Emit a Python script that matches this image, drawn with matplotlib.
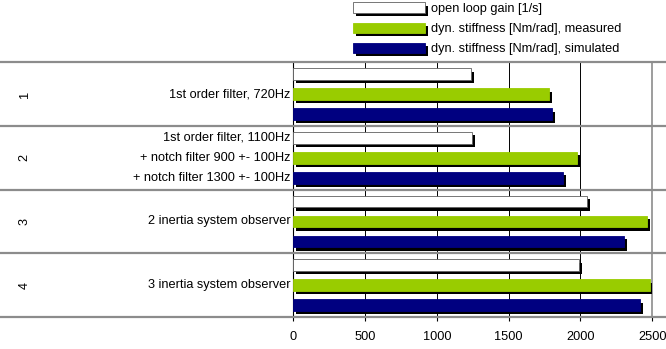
import numpy as np
import matplotlib
matplotlib.use("Agg")
import matplotlib.pyplot as plt
import matplotlib.patheffects as pe
from matplotlib.transforms import blended_transform_factory

plt.rcParams['font.family'] = ['Liberation Sans', 'DejaVu Sans']

# controller variants (top to bottom)
groups = ['1', '2', '3', '4']
group_labels = [
    ['1st order filter, 720Hz'],
    ['1st order filter, 1100Hz', '+ notch filter 900 +- 100Hz', '+ notch filter 1300 +- 100Hz'],
    ['2 inertia system observer'],
    ['3 inertia system observer'],
]
series_names = ['open loop gain [1/s]',
                'dyn. stiffness [Nm/rad], measured',
                'dyn. stiffness [Nm/rad], simulated']
open_loop_gain = [1240, 1245, 2043, 1992]
stiff_measured = [1778, 1976, 2465, 2487]
stiff_simulated = [1802, 1876, 2303, 2414]
series_colors = ['white', '#99cc00', '#000080']
xticks = [0, 500, 1000, 1500, 2000, 2500]

fs = 9.2

fig = plt.figure(figsize=(6.66, 3.49), dpi=100)
ax = fig.add_axes([0.4404, 0.0917, 0.5390, 0.7298])

y = np.arange(len(groups))
offsets = [-0.314, 0.0, 0.314]
h = 0.18
shadow = [pe.SimplePatchShadow(offset=(2.2, -2.4), shadow_rgbFace='black', alpha=1.0), pe.Normal()]

handles = []
for vals, off, col, name in zip([open_loop_gain, stiff_measured, stiff_simulated],
                                offsets, series_colors, series_names):
    edge = '#606060' if col == 'white' else col
    b = ax.barh(y + off, vals, height=h, color=col, edgecolor=edge, linewidth=0.6,
                label=name, zorder=3)
    for p in b.patches:
        p.set_path_effects(shadow)
    handles.append(b)

ax.set_xlim(0, 2500)
ax.set_ylim(len(groups) - 0.5, -0.5)
ax.set_xticks(xticks)
ax.set_xticklabels([str(t) for t in xticks], fontsize=fs)
ax.tick_params(axis='x', length=3, width=0.8, pad=7, color='black')
ax.set_yticks([])
ax.xaxis.grid(True, color='black', linewidth=0.7, zorder=1)
ax.set_axisbelow(True)

for s in ['top', 'bottom']:
    ax.spines[s].set_visible(False)
ax.spines['right'].set_color('#8c8c8c')
ax.spines['right'].set_linewidth(1.2)
ax.spines['left'].set_color('black')
ax.spines['left'].set_linewidth(0.8)

# group separators running across the whole figure width
x0 = -293.3 / 359.0
x1 = (666 - 293.3) / 359.0
for b in np.arange(len(groups) + 1) - 0.5:
    ax.axhline(b, xmin=x0, xmax=x1, color='#8c8c8c', linewidth=1.6, clip_on=False, zorder=4)

tr = blended_transform_factory(ax.transAxes, ax.transData)
for i, labs in enumerate(group_labels):
    if len(labs) == 1:
        ax.text(-0.008, y[i], labs[0], transform=tr, ha='right', va='center', fontsize=fs)
    else:
        for lab, off in zip(labs, offsets):
            ax.text(-0.008, y[i] + off, lab, transform=tr, ha='right', va='center', fontsize=fs)
    ax.text(-0.748, y[i], groups[i], transform=tr, ha='center', va='center',
            rotation=90, fontsize=fs)

leg = ax.legend(handles=handles, loc='upper left', bbox_to_anchor=(352 / 666, 0.997),
                bbox_transform=fig.transFigure, frameon=False, fontsize=fs,
                handlelength=5.6, handleheight=0.85, handletextpad=0.45,
                labelspacing=0.6, borderaxespad=0.0, borderpad=0.1)

fig.savefig('out.png', dpi=100)
